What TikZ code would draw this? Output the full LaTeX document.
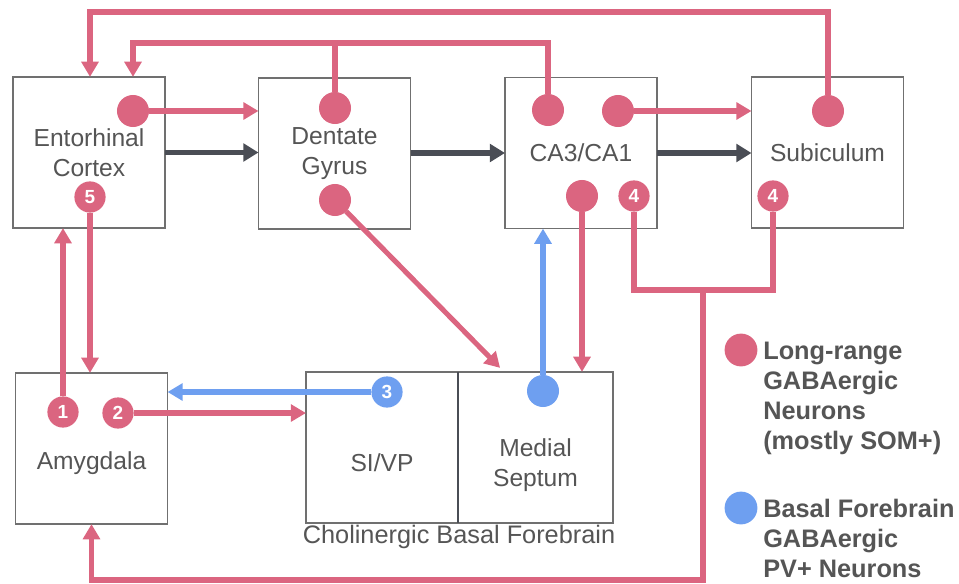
\documentclass[tikz,border=0pt]{standalone}
\usepackage{fontspec}
\setmainfont{Liberation Sans}
\usetikzlibrary{arrows.meta}
\definecolor{gabared}{HTML}{DB6580}
\definecolor{gabablue}{HTML}{6E9FF0}
\definecolor{mainpath}{HTML}{4A4D55}
\definecolor{boxgray}{HTML}{707070}
\definecolor{textgray}{HTML}{555555}
\begin{document}
\begin{tikzpicture}[x=0.025cm,y=-0.025cm]
	\tikzstyle{region} = [rectangle, draw=boxgray, line width=1pt, minimum width=3.8cm, minimum height=3.78cm, outer sep=0pt, inner sep=0pt, align=center, text=textgray, font=\fontsize{17.5}{21}\selectfont]
	\tikzstyle{regiontext} = [align=center, text=textgray, inner sep=0pt, font=\fontsize{17.5}{21}\selectfont]
	\tikzstyle{reddot} = [circle, fill=gabared, minimum size=0.8cm, inner sep=0pt, outer sep=0pt]
	\tikzstyle{bluedot} = [circle, fill=gabablue, minimum size=0.8cm, inner sep=0pt, outer sep=0pt]
	\tikzstyle{numdot} = [minimum size=0.78cm, text=white, font=\bfseries\fontsize{13.5}{13.5}\selectfont]
	\tikzstyle{redline} = [draw=gabared, line width=3.6pt]
	\tikzstyle{redarrow} = [redline, -{Triangle[length=0.38cm,width=0.42cm]}]
	\tikzstyle{bluearrow} = [draw=gabablue, line width=3.6pt, -{Triangle[length=0.38cm,width=0.42cm]}]
	\tikzstyle{mainarrow} = [draw=mainpath, line width=4.2pt, -{Triangle[length=0.38cm,width=0.44cm]}]
	\tikzstyle{legendtext} = [align=left, text=textgray, inner sep=0pt, font=\bfseries\fontsize{18}{21.3}\selectfont]

	\useasboundingbox (0,0) rectangle (959,584);

	% Regions, upper row
	\node (ec) [region] at (89,152.5) {Entorhinal\\Cortex};
	\node (dg) [region] at (334.5,153.5) {Dentate\\Gyrus};
	\node (ca) [region] at (581,153) {CA3/CA1};
	\node (sub) [region] at (827.5,152.5) {Subiculum};
	% Regions, lower row
	\node (amy) [region] at (91.5,448.5) {};
	\node (amytext) [regiontext] at (91.5,463) {Amygdala};
	\node (sivp) [region] at (382,447.5) {};
	\node (sivptext) [regiontext] at (382,463) {SI/VP};
	\node (ms) [region, minimum width=3.87cm] at (535.5,447.5) {};
	\node (mstext) [regiontext] at (535.5,465) {Medial\\Septum};
	\draw[mainpath, line width=1.6pt] (ms.north west) -- (ms.south west);
	\node (cbf) [regiontext, font=\fontsize{18}{21}\selectfont] at (459,537) {Cholinergic Basal Forebrain};

	% Neurons
	\node (ecdot) [reddot] at (133,111) {};
	\node (ec5) [reddot, numdot] at (90,197) {5};
	\node (dgtop) [reddot] at (335,108) {};
	\node (dgbot) [reddot] at (335,200) {};
	\node (catl) [reddot] at (548,110) {};
	\node (catr) [reddot] at (618,111) {};
	\node (cabl) [reddot] at (582,196) {};
	\node (ca4) [reddot, numdot] at (634,196) {4};
	\node (subtop) [reddot] at (828,111) {};
	\node (sub4) [reddot, numdot] at (773,196) {4};
	\node (amy1) [reddot, numdot] at (63,412) {1};
	\node (amy2) [reddot, numdot] at (118,413) {2};
	\node (sivp3) [bluedot, numdot] at (387,392) {3};
	\node (msdot) [bluedot] at (543,391) {};

	% Loop heights
	\coordinate (outerloop) at (0,12);
	\coordinate (toploop) at (0,43);
	\coordinate (midloop) at (0,290);
	\coordinate (bottomloop) at (0,580);
	\coordinate (junction) at (703,290);

	% Main path
	\draw[mainarrow] (ec.east) -- (ec.east -| dg.west);
	\draw[mainarrow] (dg.east |- ca.west) -- (ca.west);
	\draw[mainarrow] (ca.east) -- (ca.east -| sub.west);

	% Long-range projections
	\draw[redarrow] (ecdot) -- (ecdot -| dg.west);
	\draw[redarrow] (catr) -- (catr -| sub.west);
	\draw[redarrow] (catl) |- (ecdot |- toploop) -- (ecdot |- ec.north);
	\draw[redline] (dgtop) -- (dgtop |- toploop);
	\draw[redarrow] (subtop) |- (ec5 |- outerloop) -- (ec5 |- ec.north);
	\draw[redarrow] (ec5) -- (ec5 |- amy.north);
	\draw[redarrow] (amy1) -- (amy1 |- ec.south);
	\draw[redarrow] (amy2) -- (amy2 -| sivp.west);
	\draw[redarrow] (dgbot) -- ([xshift=1.05cm,yshift=0.1cm]ms.north west);
	\draw[redarrow] (cabl) -- (cabl |- ms.north);
	\draw[redline] (ca4) |- (sub4 |- midloop) -- (sub4);
	\draw[redarrow] (junction) |- (amy.south |- bottomloop) -- (amy.south);

	% Basal forebrain projections
	\draw[bluearrow] (sivp3) -- (sivp3 -| amy.east);
	\draw[bluearrow] (msdot) -- (msdot |- ca.south);

	% Legend
	\node (legred) [reddot, minimum size=0.82cm] at (741,350) {};
	\node (legredtext) [legendtext, anchor=north west] at (763,342) {Long-range\\GABAergic\\Neurons\\(mostly SOM+)};
	\node (legblue) [bluedot, minimum size=0.82cm] at (741,508) {};
	\node (legbluetext) [legendtext, anchor=north west] at (763,499) {Basal Forebrain\\GABAergic\\PV+ Neurons};
\end{tikzpicture}
\end{document}
